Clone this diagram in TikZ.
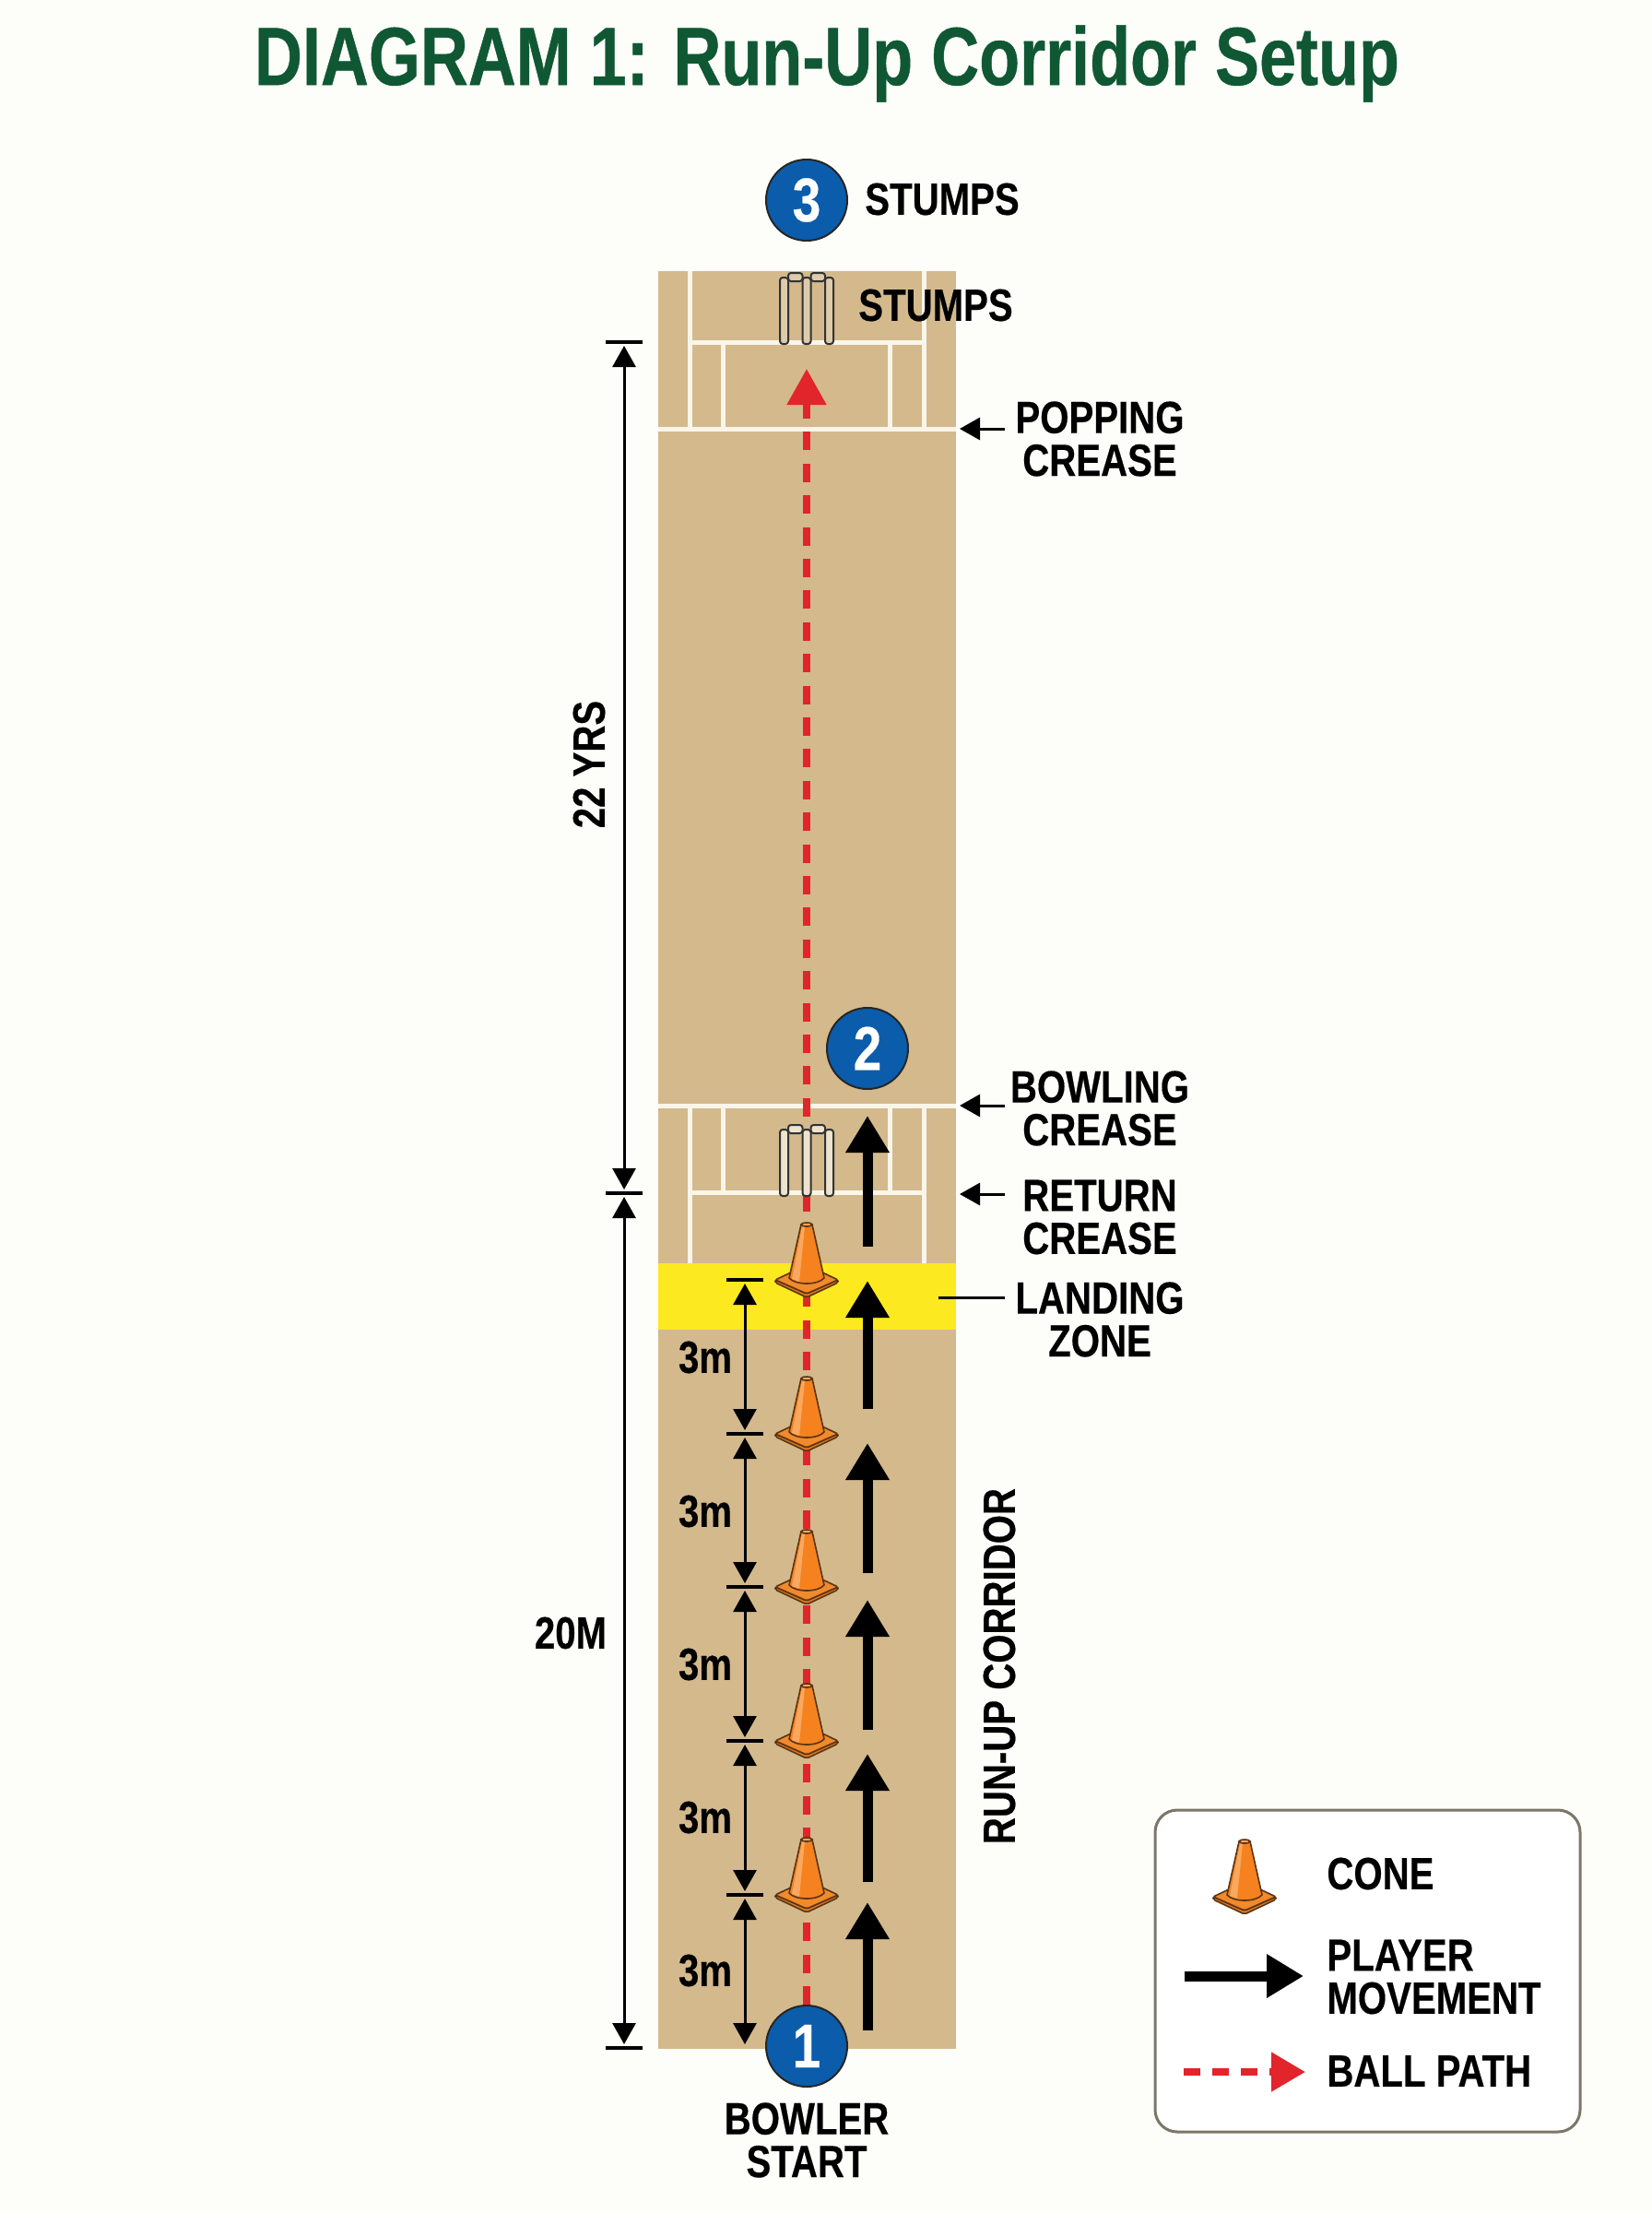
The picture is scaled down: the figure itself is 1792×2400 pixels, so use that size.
\documentclass[tikz,border=0pt]{standalone}
\usepackage{fontspec}
\setmainfont{Liberation Sans}[FakeStretch=0.82,BoldFeatures={FakeBold=0.35}]
\newfontfamily\titlefont{Liberation Sans}[FakeStretch=0.805,BoldFeatures={FakeBold=0.5}]
\usepackage{tikz}
\usetikzlibrary{arrows.meta}
\definecolor{pagecol}{HTML}{FDFDFA}
\definecolor{pitchcol}{HTML}{D3B98C}
\definecolor{creasecol}{HTML}{F9F5EA}
\definecolor{zonecol}{HTML}{FDE91F}
\definecolor{ballcol}{HTML}{E2242B}
\definecolor{markcol}{HTML}{0B5DAB}
\definecolor{titlecol}{HTML}{0F5833}
\definecolor{boxcol}{HTML}{7B7668}
\definecolor{conecol}{HTML}{F5821F}
\definecolor{conelight}{HTML}{FAA75F}
\definecolor{conebase}{HTML}{F08A2C}
\definecolor{conedark}{HTML}{DD7A22}
\definecolor{coneline}{HTML}{5B3413}
\newcommand{\lblfont}{\fontsize{24.5}{23.25}\selectfont\bfseries}
\tikzset{
    lbl/.style={font=\lblfont, align=center, inner sep=0pt},
    markdot/.style={circle, draw=black!85, line width=1pt, fill=markcol, text=white, minimum size=44pt, inner sep=0pt, font=\fontsize{33.5}{33.5}\selectfont\bfseries},
    crease/.style={creasecol, line width=2.5pt},
    dimline/.style={line width=1.5pt, {Triangle[length=11.5pt,width=12.5pt]}-{Triangle[length=11.5pt,width=12.5pt]}, shorten <=2pt, shorten >=2pt},
    dimtick/.style={line width=2pt},
    pointer/.style={line width=1.5pt, -{Triangle[length=11pt,width=12pt]}},
    runarrow/.style={line width=5.5pt, -{Triangle[length=20pt,width=22.5pt]}},
    ballpath/.style={ballcol, line width=4pt, dash pattern=on 10pt off 7.2pt, -{Triangle[length=19.5pt,width=20.5pt]}},
    stumpbar/.style={line width=1pt, draw=black!80, rounded corners=1.5pt},
    cone/.pic={
        \draw[coneline, line width=0.8pt, fill=conedark, line join=round, rounded corners=1pt] (-34,0) -- (-34,3) -- (0,19) -- (34,3) -- (34,0) -- (0,15) -- cycle;
        \draw[coneline, line width=0.8pt, fill=conebase, line join=round, rounded corners=1pt] (-34,0) -- (0,-16) -- (34,0) -- (0,15) -- cycle;
        \draw[coneline, line width=0.8pt, fill=conecol, line join=round] (-6,-60) -- (6,-60) -- (19,-2) .. controls (12,6) and (-12,6) .. (-19,-2) -- cycle;
        \fill[conelight] (-5,-58) -- (-2,-58) -- (-8,2) -- (-16,-1) -- cycle;
        \draw[coneline, line width=0.8pt, fill=conelight] (0,-60) ellipse (6 and 2);
    },
    wicket/.pic={
        \filldraw[stumpbar, fill=#1] (-29,-72) rectangle (-20,0);
        \filldraw[stumpbar, fill=#1] (-4.5,-72) rectangle (4.5,0);
        \filldraw[stumpbar, fill=#1] (20,-72) rectangle (29,0);
        \filldraw[stumpbar, fill=#1] (-20,-77) rectangle (-4.5,-68);
        \filldraw[stumpbar, fill=#1] (4.5,-77) rectangle (20,-68);
    },
}
\begin{document}
\begin{tikzpicture}[x=0.5pt, y=-0.5pt]
        \useasboundingbox (0,0) rectangle (1792,2400);
        \fill[pagecol] (0,0) rectangle (1792,2400);

        \node[font=\titlefont\fontsize{44.7}{44.7}\selectfont\bfseries, text=titlecol, inner sep=0pt] (title) at (897,69) {DIAGRAM 1: Run-Up Corridor Setup};

        \fill[pitchcol] (714,294) rectangle (1037,2222);
        \fill[zonecol] (714,1370) rectangle (1037,1442);

        \draw[crease] (748,294) -- (748,465);
        \draw[crease] (1002,294) -- (1002,465);
        \draw[crease] (784,371) -- (784,465);
        \draw[crease] (965,371) -- (965,465);
        \draw[crease] (748,371) -- (1002,371);
        \draw[crease] (714,465) -- (1037,465);

        \draw[crease] (714,1199) -- (1037,1199);
        \draw[crease] (748,1199) -- (748,1370);
        \draw[crease] (1002,1199) -- (1002,1370);
        \draw[crease] (784,1199) -- (784,1293);
        \draw[crease] (965,1199) -- (965,1293);
        \draw[crease] (748,1293) -- (1002,1293);

        \node[markdot] (M3) at (875,217) {3};
        \node[markdot] (M2) at (941,1137) {2};
        \node[markdot] (M1) at (875,2219) {1};
        \node[lbl] (L_stumps_a) at (1022,216) {STUMPS};
        \node[lbl] (L_stumps_b) at (1015,331) {STUMPS};
        \node[lbl] (L_popping) at (1193,476) {POPPING\\CREASE};
        \node[lbl] (L_bowling) at (1193,1202) {BOWLING\\CREASE};
        \node[lbl] (L_return) at (1193,1320) {RETURN\\CREASE};
        \node[lbl] (L_landing) at (1193,1431) {LANDING\\ZONE};
        \node[lbl] (L_start) at (875,2321) {BOWLER\\START};
        \node[lbl, rotate=90] (L_yards) at (639,829) {22 YRS};
        \node[lbl] (L_metres) at (619,1771) {20M};
        \node[lbl, rotate=90] (L_corridor) at (1084,1807) {RUN-UP CORRIDOR};
        \node[lbl] (L_gap1) at (765,1472) {3m};
        \node[lbl] (L_gap2) at (765,1639) {3m};
        \node[lbl] (L_gap3) at (765,1805) {3m};
        \node[lbl] (L_gap4) at (765,1971) {3m};
        \node[lbl] (L_gap5) at (765,2137) {3m};

        \coordinate (B_tip) at (875,400);
        \draw[ballpath] (M1) -- (B_tip);

        \pic at (875,373) {wicket={pitchcol!75!white}};
        \pic at (875,1297) {wicket={creasecol!70!pitchcol}};

        \pic at (875,1388) {cone};
        \pic at (875,1555) {cone};
        \pic at (875,1721) {cone};
        \pic at (875,1888) {cone};
        \pic at (875,2055) {cone};

        \coordinate (R1_s) at (941,2202);
        \coordinate (R1_e) at (941,2063);
        \coordinate (R2_s) at (941,2041);
        \coordinate (R2_e) at (941,1902);
        \coordinate (R3_s) at (941,1876);
        \coordinate (R3_e) at (941,1735);
        \coordinate (R4_s) at (941,1706);
        \coordinate (R4_e) at (941,1565);
        \coordinate (R5_s) at (941,1528);
        \coordinate (R5_e) at (941,1389);
        \coordinate (R6_s) at (941,1352);
        \coordinate (R6_e) at (941,1210);
        \draw[runarrow] (R1_s) -- (R1_e);
        \draw[runarrow] (R2_s) -- (R2_e);
        \draw[runarrow] (R3_s) -- (R3_e);
        \draw[runarrow] (R4_s) -- (R4_e);
        \draw[runarrow] (R5_s) -- (R5_e);
        \draw[runarrow] (R6_s) -- (R6_e);

        \coordinate (G0) at (808,1388);
        \coordinate (G1) at (808,1555);
        \coordinate (G2) at (808,1721);
        \coordinate (G3) at (808,1888);
        \coordinate (G4) at (808,2055);
        \coordinate (G5) at (808,2221);
        \draw[dimtick] ([xshift=-10pt]G0) -- ([xshift=10pt]G0);
        \draw[dimtick] ([xshift=-10pt]G1) -- ([xshift=10pt]G1);
        \draw[dimtick] ([xshift=-10pt]G2) -- ([xshift=10pt]G2);
        \draw[dimtick] ([xshift=-10pt]G3) -- ([xshift=10pt]G3);
        \draw[dimtick] ([xshift=-10pt]G4) -- ([xshift=10pt]G4);
        \draw[dimline] (G0) -- (G1);
        \draw[dimline] (G1) -- (G2);
        \draw[dimline] (G2) -- (G3);
        \draw[dimline] (G3) -- (G4);
        \draw[dimline] (G4) -- (G5);

        \coordinate (D0) at (677,371);
        \coordinate (D1) at (677,1294);
        \coordinate (D2) at (677,2221);
        \draw[dimtick] ([xshift=-10pt]D0) -- ([xshift=10pt]D0);
        \draw[dimtick] ([xshift=-10pt]D1) -- ([xshift=10pt]D1);
        \draw[dimtick] ([xshift=-10pt]D2) -- ([xshift=10pt]D2);
        \draw[dimline] (D0) -- (D1);
        \draw[dimline] (D1) -- (D2);

        \coordinate (P_pop_s) at (1090,465);
        \coordinate (P_pop_e) at (1041,465);
        \coordinate (P_bow_s) at (1090,1199);
        \coordinate (P_bow_e) at (1041,1199);
        \coordinate (P_ret_s) at (1090,1295);
        \coordinate (P_ret_e) at (1041,1295);
        \coordinate (P_land_s) at (1090,1407);
        \coordinate (P_land_e) at (1018,1407);
        \draw[pointer] (P_pop_s) -- (P_pop_e);
        \draw[pointer] (P_bow_s) -- (P_bow_e);
        \draw[pointer] (P_ret_s) -- (P_ret_e);
        \draw[line width=1.5pt] (P_land_s) -- (P_land_e);

        \draw[boxcol, line width=1.5pt, fill=white, rounded corners=12pt] (1253,1963) rectangle (1714,2312);
        \pic at (1350,2057) {cone};
        \node[lbl, anchor=west] (K_cone) at (1439,2032) {CONE};
        \node[lbl, align=left, anchor=west] (K_player) at (1439,2144) {PLAYER\\MOVEMENT};
        \node[lbl, anchor=west] (K_ball) at (1439,2246) {BALL PATH};
        \coordinate (K_run_s) at (1285,2143);
        \coordinate (K_run_e) at (1414,2143);
        \coordinate (K_path_s) at (1284,2247);
        \coordinate (K_path_e) at (1416,2247);
        \draw[runarrow] (K_run_s) -- (K_run_e);
        \draw[ballpath, dash pattern=on 9pt off 6.5pt, -{Triangle[length=18.5pt,width=20.5pt]}] (K_path_s) -- (K_path_e);
    \end{tikzpicture}
\end{document}
